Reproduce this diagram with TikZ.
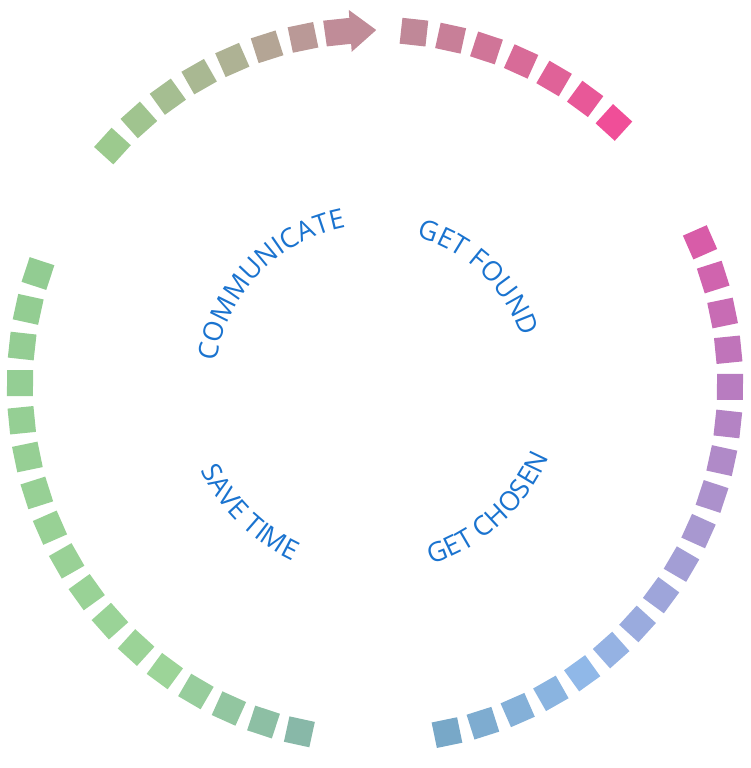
\documentclass[tikz,border=0pt]{standalone}
\usepackage{fontspec}
\newfontfamily\labelfont{Open Sans}
\usetikzlibrary{decorations.text}
\definecolor{cGreen}{HTML}{9CCA8E}
\definecolor{cTan}{HTML}{AEB294}
\definecolor{cMauve}{HTML}{C08C98}
\definecolor{cRose}{HTML}{C08898}
\definecolor{cHotPink}{HTML}{F04E98}
\definecolor{cPink}{HTML}{D85CA8}
\definecolor{cPurple}{HTML}{B87CC0}
\definecolor{cLavender}{HTML}{A898D0}
\definecolor{cSky}{HTML}{90B8E8}
\definecolor{cSteel}{HTML}{78A8C8}
\definecolor{cLeaf}{HTML}{92CC92}
\definecolor{cMint}{HTML}{9CD498}
\definecolor{cTeal}{HTML}{88B8A8}
\definecolor{cText}{HTML}{1A73CF}
\tikzset{
  dashsq/.style={minimum size=26pt, inner sep=0pt, outer sep=0pt},
  ringtext/.style={decorate, decoration={text along path, text align=center,
      text color=cText, text={|\labelfont\fontsize{27}{31}\selectfont|#1}}}
}

\begin{document}
\begin{tikzpicture}[x=1pt, y=1pt]
    \useasboundingbox (-375,-383) rectangle (375,385);
    % top left, ends in the arrow
    \foreach \j in {0,...,6} {
      \pgfmathsetmacro\a{137.7-6*\j}
      \ifnum\j<4
        \pgfmathtruncatemacro\p{25*\j}
        \colorlet{dc}{cTan!\p!cGreen}
      \else
        \pgfmathtruncatemacro\p{100*(\j-4)/3}
        \colorlet{dc}{cMauve!\p!cTan}
      \fi
      \node[dashsq, fill=dc, rotate=\a] (tl\j) at (\a:355) {};
    }
    \fill[cMauve] (98.1:342) -- (94:342) -- (94:334) -- (89.8:355)
      -- (94:376) -- (94:368) -- (98.1:368) -- cycle;
    % top right
    \foreach \k in {0,...,6} {
      \pgfmathsetmacro\a{83.7-6*\k}
      \pgfmathtruncatemacro\p{100*\k/6}
      \colorlet{dc}{cHotPink!\p!cRose}
      \node[dashsq, fill=dc, rotate=\a] (tr\k) at (\a:355) {};
    }
    % right
    \foreach \i in {0,...,17} {
      \pgfmathsetmacro\a{23.7-6*\i}
      \ifnum\i<4
        \pgfmathtruncatemacro\p{25*\i}
        \colorlet{dc}{cPurple!\p!cPink}
      \else\ifnum\i<8
        \pgfmathtruncatemacro\p{25*(\i-4)}
        \colorlet{dc}{cLavender!\p!cPurple}
      \else\ifnum\i<13
        \pgfmathtruncatemacro\p{20*(\i-8)}
        \colorlet{dc}{cSky!\p!cLavender}
      \else
        \pgfmathtruncatemacro\p{25*(\i-13)}
        \colorlet{dc}{cSteel!\p!cSky}
      \fi\fi\fi
      \node[dashsq, fill=dc, rotate=\a] (rt\i) at (\a:355) {};
    }
    % left
    \foreach \m in {0,...,16} {
      \pgfmathsetmacro\a{161.7+6*\m}
      \ifnum\m<12
        \pgfmathtruncatemacro\p{100*\m/12}
        \colorlet{dc}{cMint!\p!cLeaf}
      \else
        \pgfmathtruncatemacro\p{25*(\m-12)}
        \colorlet{dc}{cTeal!\p!cMint}
      \fi
      \node[dashsq, fill=dc, rotate=\a] (lf\m) at (\a:355) {};
    }
    % labels
    \path[ringtext=COMMUNICATE] (186:160) arc (186:86:160);
    \path[ringtext=GET FOUND] (96.2:154) arc (96.2:-3.8:154);
    \path[ringtext=SAVE TIME] (175.5:194) arc (175.5:275.5:194);
    \path[ringtext=GET CHOSEN] (-97.5:188) arc (-97.5:2.5:188);
\end{tikzpicture}
\end{document}
